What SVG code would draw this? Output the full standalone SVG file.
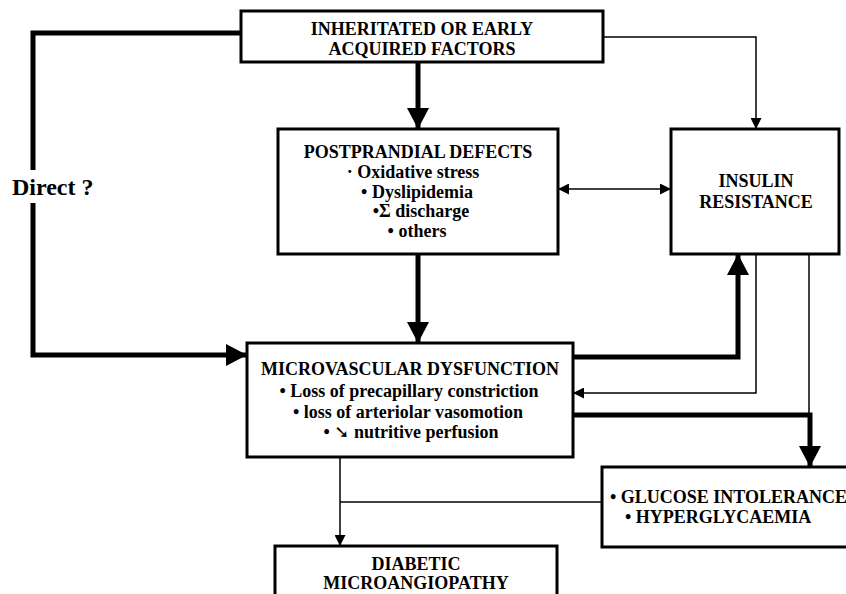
<svg xmlns="http://www.w3.org/2000/svg" width="846" height="594" viewBox="0 0 846 594">
<style>
.box{fill:#fff;stroke:#000;stroke-width:3}
.t{font-family:"Liberation Serif","Times New Roman",serif;font-weight:bold;font-size:18px;fill:#000}
.c{text-anchor:middle}
.thick{fill:none;stroke:#000;stroke-width:5}
.thin{fill:none;stroke:#000;stroke-width:1.5}
</style>
<defs>
<marker id="ah" markerUnits="userSpaceOnUse" markerWidth="21" markerHeight="22" refX="21" refY="11" orient="auto" viewBox="0 0 21 22"><path d="M0,0 L21,11 L0,22 z" fill="#000"/></marker>
<marker id="as" markerUnits="userSpaceOnUse" markerWidth="11" markerHeight="11" refX="11" refY="5.5" orient="auto-start-reverse" viewBox="0 0 11 11"><path d="M0,0 L11,5.5 L0,11 z" fill="#000"/></marker>
</defs>
<rect width="846" height="594" fill="#fff"/>
<g id="connectors">
<path class="thick" d="M241,33 H33 V170"/>
<path class="thick" d="M33,203 V355 H247" marker-end="url(#ah)"/>
<path class="thick" d="M418,62 V129" marker-end="url(#ah)"/>
<path class="thick" d="M418,254 V343" marker-end="url(#ah)"/>
<path class="thick" d="M573,357 H738 V254" marker-end="url(#ah)"/>
<path class="thick" d="M573,415 H810 V467" marker-end="url(#ah)"/>
<path class="thin" d="M603,37 H756 V129" marker-end="url(#as)"/>
<path class="thin" d="M558,189 H671" marker-start="url(#as)" marker-end="url(#as)"/>
<path class="thin" d="M756,254 V393 H573" marker-end="url(#as)"/>
<path class="thin" d="M809,254 V415"/>
<path class="thin" d="M340,457 V546" marker-end="url(#as)"/>
<path class="thin" d="M340,502 H602"/>
</g>
<text class="t" x="12" y="195" style="font-size:24px">Direct ?</text>
<g id="inherited">
<rect class="box" x="241" y="11" width="362" height="51"/>
<text class="t c" x="422" y="35">INHERITATED OR EARLY</text>
<text class="t c" x="422" y="55">ACQUIRED FACTORS</text>
</g>
<g id="postprandial">
<rect class="box" x="278" y="129" width="280" height="125"/>
<text class="t c" x="418" y="158">POSTPRANDIAL DEFECTS</text>
<text class="t c" x="413" y="178">· Oxidative stress</text>
<text class="t c" x="417" y="198">• Dyslipidemia</text>
<text class="t c" x="421" y="217">•Σ discharge</text>
<text class="t c" x="417" y="237">• others</text>
</g>
<g id="insulin">
<rect class="box" x="671" y="129" width="168" height="125"/>
<text class="t c" x="756" y="187">INSULIN</text>
<text class="t c" x="756" y="208">RESISTANCE</text>
</g>
<g id="microvascular">
<rect class="box" x="247" y="343" width="326" height="114"/>
<text class="t c" x="410" y="375">MICROVASCULAR DYSFUNCTION</text>
<text class="t c" x="409" y="397">• Loss of precapillary constriction</text>
<text class="t c" x="408" y="418">• loss of arteriolar vasomotion</text>
<text class="t c" x="411" y="438">• <tspan style="font-family:'DejaVu Sans',sans-serif;font-size:18px;font-weight:bold">➘</tspan> nutritive perfusion</text>
</g>
<g id="glucose">
<rect class="box" x="602" y="467" width="260" height="80"/>
<text class="t" x="610" y="503">• GLUCOSE INTOLERANCE</text>
<text class="t" x="625" y="523">• HYPERGLYCAEMIA</text>
</g>
<g id="diabetic">
<rect class="box" x="275" y="546" width="282" height="60"/>
<text class="t c" x="416" y="570">DIABETIC</text>
<text class="t c" x="416" y="589">MICROANGIOPATHY</text>
</g>
</svg>
